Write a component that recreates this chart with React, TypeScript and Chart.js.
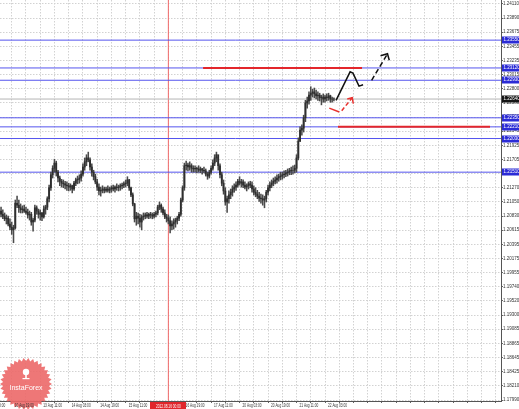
import React, { useEffect, useRef } from "react";
import { Chart, registerables } from "chart.js";

Chart.register(...registerables);

// ---------- DATA (EURUSD H1, 10 Aug 2012 10:00 onward; bar index = hours of trading) ----------
const firstOpen = 1.2096;

const highs = [
  1.2100, 1.2099, 1.2096, 1.2097, 1.2093, 1.2088, 1.2085, 1.2083, 1.2079, 1.2074,
  1.2069, 1.2108, 1.2114, 1.2108, 1.2102, 1.2099, 1.2100, 1.2097, 1.2094, 1.2091,
  1.2089, 1.2080, 1.2100, 1.2099, 1.2094, 1.2093, 1.2089, 1.2099, 1.2100, 1.2113,
  1.2131, 1.2151, 1.2161, 1.2171, 1.2168, 1.2154, 1.2145, 1.2140, 1.2139, 1.2137,
  1.2136, 1.2134, 1.2133, 1.2131, 1.2137, 1.2142, 1.2145, 1.2147, 1.2153, 1.2164,
  1.2173, 1.2178, 1.2182, 1.2173, 1.2164, 1.2154, 1.2148, 1.2140, 1.2133, 1.2128,
  1.2130, 1.2128, 1.2128, 1.2130, 1.2128, 1.2130, 1.2131, 1.2130, 1.2133, 1.2131,
  1.2133, 1.2134, 1.2136, 1.2139, 1.2144, 1.2140, 1.2128, 1.2119, 1.2103, 1.2089,
  1.2088, 1.2086, 1.2085, 1.2088, 1.2088, 1.2089, 1.2088, 1.2089, 1.2088, 1.2089,
  1.2091, 1.2100, 1.2105, 1.2102, 1.2097, 1.2093, 1.2086, 1.2085, 1.2082, 1.2076,
  1.2079, 1.2080, 1.2083, 1.2089, 1.2111, 1.2130, 1.2165, 1.2168, 1.2165, 1.2167,
  1.2164, 1.2161, 1.2161, 1.2159, 1.2161, 1.2159, 1.2157, 1.2159, 1.2156, 1.2151,
  1.2154, 1.2161, 1.2170, 1.2178, 1.2182, 1.2174, 1.2164, 1.2151, 1.2139, 1.2127,
  1.2114, 1.2122, 1.2125, 1.2130, 1.2133, 1.2136, 1.2140, 1.2144, 1.2140, 1.2139,
  1.2136, 1.2133, 1.2136, 1.2137, 1.2136, 1.2130, 1.2127, 1.2123, 1.2120, 1.2117,
  1.2116, 1.2114, 1.2123, 1.2131, 1.2136, 1.2139, 1.2142, 1.2144, 1.2147, 1.2148,
  1.2151, 1.2151, 1.2153, 1.2154, 1.2156, 1.2157, 1.2159, 1.2161, 1.2162, 1.2178,
  1.2204, 1.2221, 1.2224, 1.2239, 1.2262, 1.2267, 1.2275, 1.2283, 1.2279, 1.2281,
  1.2278, 1.2275, 1.2273, 1.2270, 1.2272, 1.2270, 1.2272, 1.2273, 1.2270, 1.2267, 1.2266,
];

const lows = [
  1.2086, 1.2085, 1.2083, 1.2082, 1.2079, 1.2076, 1.2071, 1.2068, 1.2062, 1.2055,
  1.2042, 1.2063, 1.2096, 1.2089, 1.2088, 1.2088, 1.2089, 1.2086, 1.2080, 1.2077,
  1.2069, 1.2060, 1.2074, 1.2086, 1.2080, 1.2077, 1.2076, 1.2080, 1.2086, 1.2093,
  1.2105, 1.2123, 1.2142, 1.2151, 1.2145, 1.2136, 1.2130, 1.2128, 1.2127, 1.2125,
  1.2123, 1.2122, 1.2123, 1.2119, 1.2123, 1.2130, 1.2133, 1.2134, 1.2137, 1.2145,
  1.2154, 1.2161, 1.2167, 1.2154, 1.2145, 1.2139, 1.2133, 1.2123, 1.2116, 1.2114,
  1.2119, 1.2119, 1.2120, 1.2120, 1.2119, 1.2120, 1.2122, 1.2120, 1.2123, 1.2122,
  1.2123, 1.2125, 1.2127, 1.2128, 1.2130, 1.2123, 1.2113, 1.2099, 1.2074, 1.2069,
  1.2071, 1.2066, 1.2062, 1.2077, 1.2079, 1.2080, 1.2079, 1.2080, 1.2079, 1.2080,
  1.2082, 1.2085, 1.2093, 1.2089, 1.2085, 1.2079, 1.2074, 1.2071, 1.2057, 1.2062,
  1.2063, 1.2066, 1.2071, 1.2076, 1.2083, 1.2105, 1.2123, 1.2154, 1.2153, 1.2154,
  1.2151, 1.2151, 1.2151, 1.2150, 1.2151, 1.2150, 1.2148, 1.2150, 1.2145, 1.2140,
  1.2142, 1.2148, 1.2154, 1.2161, 1.2167, 1.2154, 1.2142, 1.2130, 1.2117, 1.2100,
  1.2089, 1.2103, 1.2110, 1.2114, 1.2120, 1.2123, 1.2128, 1.2131, 1.2128, 1.2127,
  1.2125, 1.2122, 1.2125, 1.2127, 1.2120, 1.2116, 1.2113, 1.2110, 1.2106, 1.2103,
  1.2100, 1.2096, 1.2105, 1.2116, 1.2122, 1.2127, 1.2130, 1.2133, 1.2134, 1.2137,
  1.2139, 1.2140, 1.2142, 1.2144, 1.2145, 1.2147, 1.2147, 1.2148, 1.2150, 1.2151,
  1.2170, 1.2198, 1.2208, 1.2213, 1.2229, 1.2250, 1.2256, 1.2262, 1.2267, 1.2266,
  1.2264, 1.2262, 1.2261, 1.2255, 1.2259, 1.2259, 1.2261, 1.2262, 1.2259, 1.2259, 1.2261,
];

const closes = [
  1.2093, 1.2089, 1.2091, 1.2086, 1.2083, 1.2079, 1.2080, 1.2071, 1.2066, 1.2062,
  1.2065, 1.2103, 1.2100, 1.2096, 1.2093, 1.2094, 1.2091, 1.2089, 1.2085, 1.2086,
  1.2074, 1.2077, 1.2096, 1.2091, 1.2086, 1.2088, 1.2082, 1.2094, 1.2097, 1.2110,
  1.2127, 1.2147, 1.2157, 1.2165, 1.2151, 1.2142, 1.2137, 1.2134, 1.2133, 1.2131,
  1.2130, 1.2128, 1.2130, 1.2125, 1.2134, 1.2139, 1.2140, 1.2142, 1.2148, 1.2159,
  1.2167, 1.2173, 1.2170, 1.2159, 1.2151, 1.2144, 1.2136, 1.2128, 1.2122, 1.2123,
  1.2125, 1.2123, 1.2125, 1.2123, 1.2125, 1.2127, 1.2125, 1.2128, 1.2127, 1.2128,
  1.2130, 1.2131, 1.2133, 1.2134, 1.2139, 1.2127, 1.2116, 1.2102, 1.2079, 1.2083,
  1.2080, 1.2074, 1.2082, 1.2083, 1.2085, 1.2083, 1.2086, 1.2085, 1.2083, 1.2086,
  1.2088, 1.2097, 1.2100, 1.2094, 1.2088, 1.2082, 1.2080, 1.2076, 1.2068, 1.2071,
  1.2074, 1.2077, 1.2080, 1.2086, 1.2108, 1.2127, 1.2161, 1.2162, 1.2159, 1.2161,
  1.2157, 1.2156, 1.2157, 1.2156, 1.2154, 1.2156, 1.2154, 1.2153, 1.2148, 1.2145,
  1.2151, 1.2157, 1.2165, 1.2173, 1.2178, 1.2161, 1.2147, 1.2134, 1.2122, 1.2105,
  1.2110, 1.2116, 1.2120, 1.2125, 1.2128, 1.2131, 1.2137, 1.2134, 1.2136, 1.2131,
  1.2128, 1.2130, 1.2133, 1.2131, 1.2125, 1.2120, 1.2117, 1.2114, 1.2111, 1.2110,
  1.2108, 1.2110, 1.2120, 1.2127, 1.2131, 1.2134, 1.2137, 1.2139, 1.2142, 1.2144,
  1.2145, 1.2147, 1.2148, 1.2150, 1.2151, 1.2153, 1.2154, 1.2154, 1.2157, 1.2173,
  1.2199, 1.2216, 1.2219, 1.2235, 1.2258, 1.2261, 1.2270, 1.2273, 1.2275, 1.2272,
  1.2269, 1.2270, 1.2266, 1.2267, 1.2264, 1.2267, 1.2266, 1.2269, 1.2264, 1.2264, 1.2264,
];

// price-scale tick labels
const priceTicks = [
  1.2411, 1.2389, 1.23675, 1.23455, 1.23235, 1.23015, 1.228, 1.2258, 1.2236, 1.22145,
  1.21925, 1.21705, 1.21485, 1.2127, 1.2105, 1.2083, 1.20615, 1.20395, 1.20175, 1.19955,
  1.1974, 1.1952, 1.193, 1.19085, 1.18865, 1.18645, 1.18425, 1.1821, 1.1799,
];

// time-scale labels (bar index -> text)
const timeLabelIndex = [-7, 9, 25, 41, 57, 73, 89, 105, 121, 137, 153, 169, 185];
const timeLabels = [
  "10 Aug 03:00", "10 Aug 19:00", "13 Aug 11:00", "14 Aug 03:00", "14 Aug 19:00",
  "15 Aug 11:00", "16 Aug 03:00", "16 Aug 19:00", "17 Aug 11:00", "20 Aug 03:00",
  "20 Aug 19:00", "21 Aug 11:00", "22 Aug 03:00",
];

// horizontal support / resistance levels (blue)
const levelPrices = [1.2355, 1.2312, 1.2293, 1.2235, 1.2221, 1.2203, 1.2151];

// red trend segments
const redLevelPrices = [1.2312, 1.2221];
const redLevelFrom = [116.5, 192.3];
const redLevelTo = [205.8, 277.7];

// vertical marker
const markerIndex = 97;
const markerLabel = "2012.08.16 00:00";

// forecast paths (bar index, price)
const mainPathX = [191.2, 199.1, 200.7, 204.1, 206.4];
const mainPathY = [1.2262, 1.2306, 1.2304, 1.2284, 1.2286];
const mainDashX = [211.2, 219.7];
const mainDashY = [1.2293, 1.2332];
const mainHeadX = [216.2, 220.1, 221.1];
const mainHeadY = [1.2331, 1.2334, 1.2324];
const altSolidX = [187.4, 193.0];
const altSolidY = [1.2250, 1.2244];
const altDashX = [194.4, 200.3];
const altDashY = [1.2246, 1.2266];
const altHeadX = [197.5, 200.3, 200.9];
const altHeadY = [1.2264, 1.2266, 1.2257];

// ---------- LAYOUT ----------
const CANVAS_SHIFT = 30;
const CANVAS_W = 519 + CANVAS_SHIFT;
const CANVAS_H = 409;
const X_MIN = -14.44;
const X_MAX = 283.87;
const Y_MIN = 1.17975;
const Y_MAX = 1.2417;
const GRID_START = -15;
const GRID_STEP = 8;
const FONT = '"Liberation Sans", Arial, sans-serif';

function pts(xs: number[], ys: number[]) {
  return xs.map((x, i) => ({ x, y: ys[i] }));
}

function lineDs(data: any[], color: string, width: number, dash: number[] = []) {
  return {
    type: "line",
    data,
    borderColor: color,
    borderWidth: width,
    borderDash: dash,
    pointRadius: 0,
    fill: false,
    tension: 0,
    borderCapStyle: "butt",
  };
}

function drawSquished(ctx: any, text: string, x: number, y: number, sx: number, align: string) {
  ctx.save();
  ctx.translate(x, y);
  ctx.scale(sx, 1);
  ctx.textAlign = align;
  ctx.fillText(text, 0, 0);
  ctx.restore();
}

const overlayPlugin = {
  id: "mtOverlay",
  afterDraw(chart: any) {
    const { ctx, chartArea: area } = chart;
    const xs = chart.scales.x;
    const ys = chart.scales.y;
    ctx.save();

    // InstaForex badge
    const cx = CANVAS_SHIFT + 26;
    const cy = 384;
    const n = 34;
    ctx.beginPath();
    for (let k = 0; k < 2 * n; k++) {
      const a = (k * Math.PI) / n;
      const r = k % 2 === 0 ? 26 : 23;
      const px = cx + r * Math.cos(a);
      const py = cy + r * Math.sin(a);
      if (k === 0) ctx.moveTo(px, py);
      else ctx.lineTo(px, py);
    }
    ctx.closePath();
    ctx.fillStyle = "rgba(236, 104, 104, 0.9)";
    ctx.fill();
    ctx.fillStyle = "#ffffff";
    ctx.beginPath();
    ctx.arc(cx, cy - 12, 3.2, 0, Math.PI * 2);
    ctx.fill();
    ctx.fillRect(cx - 0.8, cy - 10, 1.6, 4.5);
    ctx.fillRect(cx - 3.5, cy - 6, 7, 1.2);
    ctx.font = `7px ${FONT}`;
    ctx.textAlign = "center";
    ctx.textBaseline = "middle";
    ctx.fillText("InstaForex", cx, cy + 4);

    // time-scale labels
    ctx.font = `5.5px ${FONT}`;
    ctx.fillStyle = "#333333";
    ctx.textBaseline = "middle";
    timeLabelIndex.forEach((idx, k) => {
      drawSquished(ctx, timeLabels[k], xs.getPixelForValue(idx) + 3, area.bottom + 4.5, 0.58, "left");
    });

    // vertical marker label
    const mx = xs.getPixelForValue(markerIndex);
    ctx.fillStyle = "#e1262b";
    ctx.fillRect(Math.round(mx) - 18, area.bottom + 1, 36, 8);
    ctx.fillStyle = "#ffffff";
    drawSquished(ctx, markerLabel, mx, area.bottom + 5, 0.58, "center");

    // price-scale level labels
    ctx.font = `4.5px ${FONT}`;
    const boxes = levelPrices.map((p) => ({ p, c: "#2b2bd6" }));
    boxes.push({ p: closes[closes.length - 1], c: "#151515" });
    boxes.forEach(({ p, c }) => {
      const y = ys.getPixelForValue(p);
      ctx.fillStyle = c;
      ctx.fillRect(area.right + 1, Math.round(y) - 3.5, chart.width - area.right - 1, 7);
      ctx.fillStyle = "#ffffff";
      ctx.textAlign = "left";
      ctx.textBaseline = "middle";
      ctx.fillText(p.toFixed(5), area.right + 2.5, Math.round(y));
    });

    ctx.restore();
  },
};

export default function App() {
  const ref = useRef<HTMLCanvasElement | null>(null);

  useEffect(() => {
    const canvas = ref.current;
    if (!canvas) return;

    const opens = closes.map((c, i) => (i === 0 ? firstOpen : closes[i - 1]));
    const bodies = closes.map((c, i) => ({ x: i, y: [opens[i], c] }));
    const wicks = highs.map((h, i) => ({ x: i, y: [lows[i], h] }));
    const lastClose = closes[closes.length - 1];

    const gridTicks: number[] = [];
    for (let v = GRID_START; v <= X_MAX; v += GRID_STEP) gridTicks.push(v);

    const datasets: any[] = [
      lineDs(pts(altHeadX, altHeadY), "#e8322f", 1.5),
      lineDs(pts(altDashX, altDashY), "#e8322f", 1.5, [4, 2.5]),
      lineDs(pts(altSolidX, altSolidY), "#e8322f", 1.5),
      lineDs(pts(mainHeadX, mainHeadY), "#111111", 1.5),
      lineDs(pts(mainDashX, mainDashY), "#111111", 1.5, [5, 3]),
      lineDs(pts(mainPathX, mainPathY), "#111111", 1.5),
      ...redLevelPrices.map((p, k) =>
        lineDs([{ x: redLevelFrom[k], y: p }, { x: redLevelTo[k], y: p }], "#e3262b", 2)
      ),
      {
        type: "bar",
        data: bodies,
        backgroundColor: "#2e2e2e",
        borderWidth: 0,
        barThickness: 1.2,
        grouped: false,
      },
      {
        type: "bar",
        data: wicks,
        backgroundColor: "#4a4a4a",
        borderWidth: 0,
        barThickness: 0.9,
        grouped: false,
      },
      ...levelPrices.map((p) => lineDs([{ x: -1000, y: p }, { x: 1000, y: p }], "#5555ee", 1)),
      lineDs([{ x: -1000, y: lastClose }, { x: 1000, y: lastClose }], "#b4b4b4", 1),
      lineDs([{ x: markerIndex, y: Y_MIN - 1 }, { x: markerIndex, y: Y_MAX + 1 }], "#f06a6a", 1),
    ];

    const gridCommon = {
      color: "#d2d2d2",
      lineWidth: 1,
      drawTicks: true,
      tickLength: 2,
      tickColor: "#666666",
      offset: false,
    };

    const chart = new Chart(canvas, {
      type: "bar",
      data: { datasets },
      options: {
        animation: false,
        responsive: false,
        devicePixelRatio: 1,
        events: [],
        layout: { padding: 0 },
        plugins: { legend: { display: false }, tooltip: { enabled: false } },
        scales: {
          x: {
            type: "linear",
            position: "bottom",
            min: X_MIN,
            max: X_MAX,
            offset: false,
            grid: gridCommon,
            border: { display: true, color: "#555555", width: 1, dash: [1.5, 1.5] },
            ticks: { display: false, autoSkip: false },
            afterBuildTicks: (s: any) => {
              s.ticks = gridTicks.map((v) => ({ value: v }));
            },
            afterFit: (s: any) => {
              s.height = 8;
              s.paddingLeft = 0;
              s.paddingRight = 0;
            },
          },
          y: {
            type: "linear",
            position: "right",
            min: Y_MIN,
            max: Y_MAX,
            beginAtZero: false,
            grid: gridCommon,
            border: { display: true, color: "#555555", width: 1, dash: [1.5, 1.5] },
            ticks: {
              autoSkip: false,
              padding: 0,
              color: "#333333",
              font: { size: 4.5, family: FONT },
              callback: (v: any) => Number(v).toFixed(5),
            },
            afterBuildTicks: (s: any) => {
              s.ticks = priceTicks.map((v) => ({ value: v }));
            },
            afterFit: (s: any) => {
              s.width = 18;
              s.paddingTop = 0;
              s.paddingBottom = 0;
            },
          },
        },
      },
      plugins: [overlayPlugin],
    } as any);

    return () => chart.destroy();
  }, []);

  return (
    <div
      style={{
        position: "fixed",
        left: 0,
        top: 0,
        width: 519,
        height: 409,
        overflow: "hidden",
        background: "#ffffff",
      }}
    >
      <canvas
        ref={ref}
        width={CANVAS_W}
        height={CANVAS_H}
        style={{ position: "absolute", left: -CANVAS_SHIFT, top: 0, width: CANVAS_W, height: CANVAS_H }}
      />
    </div>
  );
}
